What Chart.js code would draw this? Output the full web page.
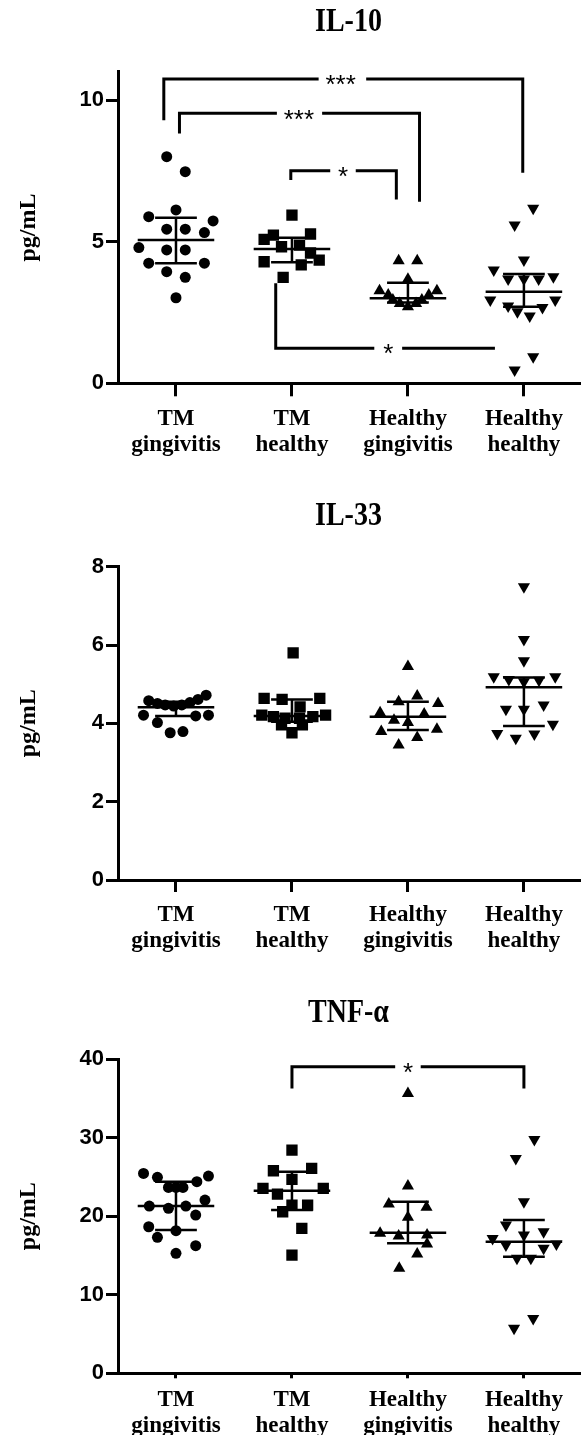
<!DOCTYPE html>
<html>
<head>
<meta charset="utf-8">
<script src="https://cdn.jsdelivr.net/npm/chart.js@4.4.0/dist/chart.umd.min.js"></script>
<style>
  body { margin: 0; background: #fff; width: 587px; height: 1435px; overflow: hidden; position: relative; }
  canvas { position: absolute; left: 0; display: block; }
</style>
</head>
<body>
<canvas id="il10" width="587" height="480" style="top:0"></canvas>
<canvas id="il33" width="587" height="485" style="top:480px"></canvas>
<canvas id="tnfa" width="587" height="470" style="top:965px"></canvas>
<script>
var categories = [['TM', 'gingivitis'], ['TM', 'healthy'], ['Healthy', 'gingivitis'], ['Healthy', 'healthy']];
var markers = ['circle', 'rect', 'triangle', 'triangle'];
var rotations = [0, 0, 0, 180];
var sizes = [5.5, 8, 7, 7];

// IL-10 (pg/mL), one list per group, with horizontal scatter offsets
var il10Values = [
    [8.0, 7.47, 6.12, 5.88, 5.73, 5.44, 5.44, 5.32, 4.79, 4.71, 4.71, 4.24, 4.24, 3.94, 3.74, 3.02],
    [5.94, 5.08, 5.23, 5.27, 4.82, 4.88, 4.6, 4.29, 4.18, 4.35, 3.74],
    [4.33, 4.33, 3.67, 3.27, 3.27, 3.12, 3.12, 2.94, 2.94, 2.82, 2.82, 2.7],
    [6.18, 5.59, 4.35, 4.0, 3.76, 3.68, 3.68, 3.68, 2.94, 2.94, 2.73, 2.68, 2.53, 2.38, 0.94, 0.47]
];
var il10Jitter = [
    [-0.08, 0.08, 0, -0.235, 0.32, -0.08, 0.08, 0.245, -0.32, -0.08, 0.08, -0.235, 0.245, -0.08, 0.08, 0],
    [0, -0.24, -0.16, 0.16, -0.09, 0.065, 0.16, -0.24, 0.08, 0.235, -0.076],
    [-0.08, 0.08, 0, -0.245, 0.25, -0.17, 0.18, -0.13, 0.12, -0.07, 0.07, 0],
    [0.08, -0.08, 0, -0.26, 0.254, -0.136, 0, 0.127, -0.29, 0.27, -0.136, 0.16, -0.056, 0.05, 0.08, -0.08]
];
var il10Mid = [5.06, 4.74, 3.0, 3.23];
var il10Upper = [5.84, 5.14, 3.55, 3.86];
var il10Lower = [4.24, 4.27, 2.85, 2.70];
var il10Brackets = [
    {from: -0.105, to: 2.99, fromEnd: 9.29, toEnd: 7.43, level: 10.74, gap: [1.23, 1.64], label: '***', at: 1.42},
    {from: 0.03, to: 2.10, fromEnd: 8.82, toEnd: 6.41, level: 9.53, gap: [0.87, 1.26], label: '***', at: 1.06},
    {from: 0.99, to: 1.90, fromEnd: 7.18, toEnd: 6.49, level: 7.5, gap: [1.33, 1.55], label: '*', at: 1.44},
    {from: 0.86, to: 2.75, fromEnd: 3.53, toEnd: null, level: 1.24, gap: [1.71, 1.95], label: '*', at: 1.83}
];

// IL-33
var il33Values = [
    [4.58, 4.51, 4.47, 4.44, 4.47, 4.53, 4.61, 4.72, 4.21, 4.02, 3.76, 3.79, 4.19, 4.21],
    [5.80, 4.64, 4.61, 4.64, 4.42, 4.21, 4.17, 4.13, 4.13, 4.17, 4.21, 3.96, 3.76, 3.96],
    [5.45, 4.55, 4.70, 4.51, 4.27, 4.08, 4.02, 4.24, 3.85, 3.79, 3.64, 3.45],
    [7.49, 6.14, 5.6, 5.19, 5.12, 5.06, 5.1, 5.19, 4.36, 4.36, 4.47, 3.98, 3.74, 3.62, 3.73]
];
var il33Jitter = [
    [-0.235, -0.16, -0.093, -0.02, 0.05, 0.12, 0.19, 0.26, -0.28, -0.16, -0.05, 0.06, 0.17, 0.28],
    [0.01, -0.24, -0.085, 0.24, 0.07, -0.26, -0.16, -0.06, 0.065, 0.18, 0.29, -0.09, 0, 0.09],
    [0, -0.08, 0.08, 0.26, -0.24, -0.12, 0, 0.14, 0.25, -0.23, 0.08, -0.08],
    [0, 0, 0, -0.26, -0.13, 0, 0.13, 0.27, -0.155, 0, 0.17, 0.25, -0.23, -0.07, 0.09]
];
var il33Mid = [4.41, 4.19, 4.17, 4.92];
var il33Upper = [4.55, 4.61, 4.55, 5.17];
var il33Lower = [4.19, 4.04, 3.83, 3.93];
var il33Brackets = [];

// TNF-alpha
var tnfValues = [
    [25.44, 24.94, 25.1, 24.38, 23.66, 23.66, 23.66, 21.28, 20.99, 21.28, 22.05, 20.14, 18.65, 18.15, 17.3, 16.24, 15.27],
    [28.41, 25.78, 26.08, 24.68, 23.54, 23.54, 22.81, 21.4, 21.4, 20.56, 18.45, 15.05],
    [35.62, 23.83, 21.54, 21.12, 19.85, 17.81, 17.47, 17.6, 16.45, 15.18, 13.36],
    [29.77, 27.35, 21.83, 18.87, 18.02, 17.6, 17.17, 16.45, 16.32, 15.9, 14.63, 14.63, 6.99, 5.72]
];
var tnfJitter = [
    [-0.28, -0.16, 0.28, 0.18, -0.065, 0, 0.06, -0.23, -0.065, 0.085, 0.25, 0.17, -0.235, 0, -0.16, 0.17, 0],
    [0, -0.16, 0.17, 0, -0.25, 0.27, -0.125, 0, 0.135, -0.08, 0.085, 0],
    [0, 0, -0.165, 0.16, 0, -0.24, -0.08, 0.165, 0.165, 0.08, -0.075],
    [0.09, -0.07, 0, -0.155, 0.17, 0, -0.27, 0.28, -0.155, 0.17, -0.06, 0.06, 0.08, -0.085]
];
var tnfMid = [21.28, 23.23, 17.89, 16.75];
var tnfUpper = [24.38, 25.65, 21.83, 19.5];
var tnfLower = [18.23, 20.78, 16.54, 14.84];
var tnfBrackets = [
    {from: 1.0, to: 3.0, fromEnd: 36.26, toEnd: 36.26, level: 39.0, gap: [1.89, 2.11], label: '*', at: 2.0}
];

function seg(pts, w) {
    return {
        data: pts.map(function (p) { return {x: p[0], y: p[1]}; }),
        showLine: true,
        borderColor: '#000',
        borderWidth: w,
        borderJoinStyle: 'miter',
        pointRadius: 0,
        order: 1
    };
}

function groupDatasets(values, jitter, mid, upper, lower) {
    var sets = [];
    values.forEach(function (vals, g) {
        sets.push({
            data: vals.map(function (v, i) { return {x: g + jitter[g][i], y: v}; }),
            pointStyle: markers[g],
            rotation: rotations[g],
            pointRadius: sizes[g],
            backgroundColor: '#000',
            borderColor: '#000',
            borderWidth: 0,
            order: 2
        });
        sets.push(seg([[g - 0.33, mid[g]], [g + 0.33, mid[g]]], 2.5));
        sets.push(seg([[g - 0.18, upper[g]], [g + 0.18, upper[g]]], 2.5));
        sets.push(seg([[g - 0.18, lower[g]], [g + 0.18, lower[g]]], 2.5));
        sets.push(seg([[g, lower[g]], [g, upper[g]]], 2.5));
    });
    return sets;
}

function bracketDatasets(brackets) {
    var sets = [];
    brackets.forEach(function (b) {
        sets.push(seg([[b.from, b.fromEnd], [b.from, b.level], [b.gap[0], b.level]], 3));
        var right = [[b.gap[1], b.level], [b.to, b.level]];
        if (b.toEnd !== null) right.push([b.to, b.toEnd]);
        sets.push(seg(right, 3));
    });
    return sets;
}

// panel title (centred over the plot area, a bit tall like the original) and significance stars
function annotations(p) {
    return {
        id: 'annotations',
        afterDraw: function (chart) {
            var ctx = chart.ctx, area = chart.chartArea;
            var xs = chart.scales.x, ys = chart.scales.y;
            ctx.save();
            ctx.fillStyle = '#000';
            ctx.textAlign = 'center';
            ctx.textBaseline = 'middle';
            ctx.save();
            ctx.translate((area.left + area.right) / 2, p.titleY);
            ctx.scale(1, 1.2);
            ctx.font = 'bold 28px "Liberation Serif"';
            ctx.fillText(p.title, 0, 0);
            ctx.restore();
            ctx.font = '26px "Liberation Sans"';
            p.brackets.forEach(function (b) {
                ctx.fillText(b.label, xs.getPixelForValue(b.at), ys.getPixelForValue(b.level) + 7);
            });
            ctx.restore();
        }
    };
}

function makeChart(id, p) {
    new Chart(document.getElementById(id), {
        type: 'scatter',
        data: {
            datasets: groupDatasets(p.values, p.jitter, p.mid, p.upper, p.lower).concat(bracketDatasets(p.brackets))
        },
        options: {
            responsive: false,
            animation: false,
            layout: {padding: {top: p.top, left: 0, right: 0, bottom: 0}},
            plugins: {legend: {display: false}, tooltip: {enabled: false}},
            scales: {
                x: {
                    type: 'linear',
                    min: -0.5,
                    max: 3.475,
                    afterFit: function (s) { s.height = p.xHeight; },
                    afterBuildTicks: function (s) { s.ticks = [0, 1, 2, 3].map(function (v) { return {value: v}; }); },
                    grid: {drawOnChartArea: false, drawTicks: true, tickLength: p.tickLen, lineWidth: 3, color: '#000'},
                    border: {display: true, width: 3, color: '#000'},
                    ticks: {
                        color: '#000',
                        padding: p.labelPad,
                        maxRotation: 0,
                        autoSkip: false,
                        font: {family: 'Liberation Serif', weight: 'bold', size: 23, lineHeight: 1.13},
                        callback: function (v) { return categories[v]; }
                    }
                },
                y: {
                    min: 0,
                    max: p.yMax,
                    afterFit: function (s) { s.width = 118; },
                    afterBuildTicks: function (s) { s.ticks = p.yTicks.map(function (v) { return {value: v}; }); },
                    grid: {drawOnChartArea: false, drawTicks: true, tickLength: 12, lineWidth: 3, color: '#000'},
                    border: {display: true, width: 3, color: '#000'},
                    ticks: {color: '#000', padding: 2, font: {family: 'Liberation Sans', weight: 'bold', size: 22}},
                    title: {
                        display: true,
                        text: 'pg/mL',
                        color: '#000',
                        font: {family: 'Liberation Serif', weight: 'bold', size: 24},
                        padding: {top: 14, bottom: 0}
                    }
                }
            }
        },
        plugins: [annotations(p)]
    });
}

makeChart('il10', {
    title: 'IL-10', titleY: 22, top: 71.7, xHeight: 96.7, tickLen: 13, labelPad: 10,
    yMax: 11, yTicks: [0, 5, 10],
    values: il10Values, jitter: il10Jitter, mid: il10Mid, upper: il10Upper, lower: il10Lower, brackets: il10Brackets
});
makeChart('il33', {
    title: 'IL-33', titleY: 36.7, top: 86.7, xHeight: 85, tickLen: 12, labelPad: 10,
    yMax: 8, yTicks: [0, 2, 4, 6, 8],
    values: il33Values, jitter: il33Jitter, mid: il33Mid, upper: il33Upper, lower: il33Lower, brackets: il33Brackets
});
makeChart('tnfa', {
    title: 'TNF-α', titleY: 48.3, top: 94, xHeight: 61.7, tickLen: 5, labelPad: 9,
    yMax: 40, yTicks: [0, 10, 20, 30, 40],
    values: tnfValues, jitter: tnfJitter, mid: tnfMid, upper: tnfUpper, lower: tnfLower, brackets: tnfBrackets
});
</script>
</body>
</html>
